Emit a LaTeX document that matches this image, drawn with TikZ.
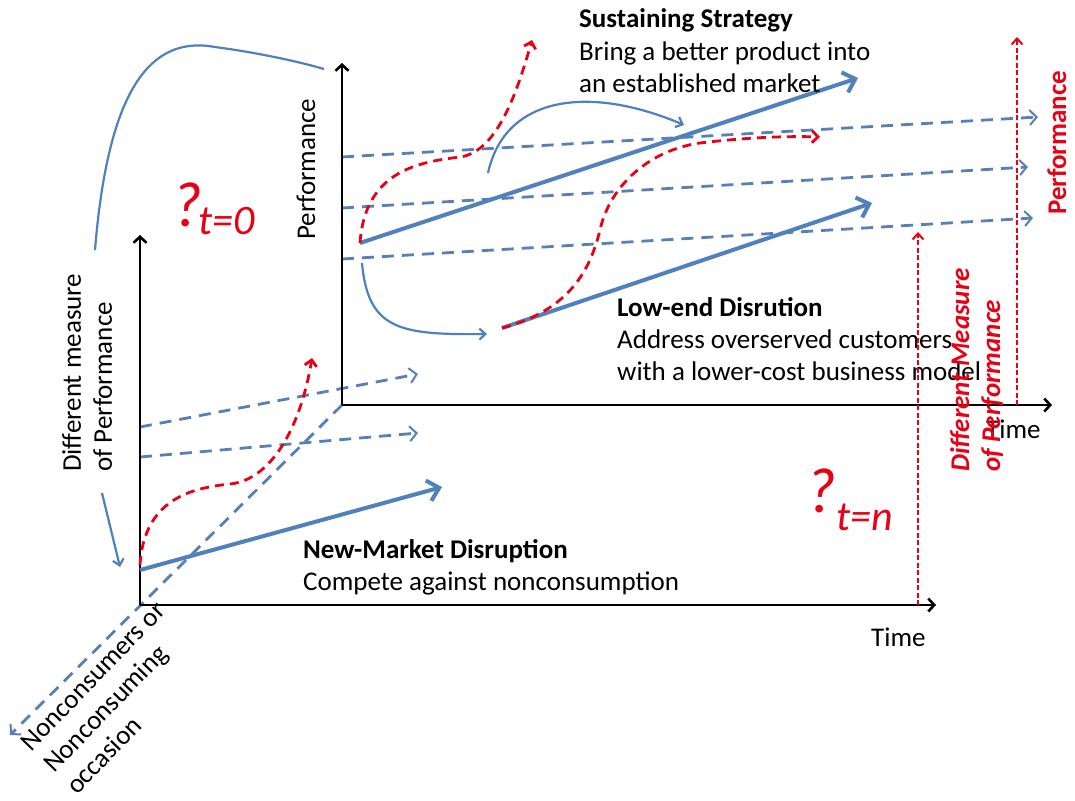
\documentclass[tikz,border=0pt]{standalone}
\usepackage{fontspec}
\setmainfont{Carlito}
\usetikzlibrary{arrows.meta}
\definecolor{ppblue}{RGB}{79,129,189}
\definecolor{dblue}{RGB}{88,128,182}
\definecolor{pred}{RGB}{232,0,20}
\tikzset{
  axisline/.style={line width=2.6pt, black, -{Straight Barb[length=6pt,width=13pt]}},
  thickarrow/.style={line width=4pt, ppblue, -{Straight Barb[length=11pt,width=21pt]}},
  thincurve/.style={line width=2.2pt, ppblue},
  thinarrow/.style={thincurve, -{Straight Barb[length=6pt,width=11pt]}},
  dasharrow/.style={line width=2.8pt, dblue, dash pattern=on 12pt off 8pt, -{Straight Barb[length=7pt,width=15pt,line width=2pt]}},
  reddash/.style={line width=2.8pt, pred, dash pattern=on 9pt off 6pt, -{Straight Barb[length=6pt,width=12pt]}},
  redvert/.style={line width=2pt, pred, dash pattern=on 5pt off 2.5pt, -{Straight Barb[length=6pt,width=11pt]}},
  txt/.style={inner sep=0pt, anchor=base west, font=\fontsize{27}{32}\selectfont},
  mtxt/.style={inner sep=0pt, anchor=north west, align=left, font=\fontsize{27}{31}\selectfont},
  bigq/.style={inner sep=0pt, anchor=base west, text=pred, font=\fontsize{64}{64}\selectfont\itshape},
  subq/.style={inner sep=0pt, anchor=base west, text=pred, font=\fontsize{42}{42}\selectfont\itshape},
}
\begin{document}
\begin{tikzpicture}[x=1pt,y=-1pt]
\fill[white] (0,0) rectangle (1075,800);
\useasboundingbox (0,0) rectangle (1075,800);

% key coordinates
\coordinate (UO) at (342,405);
\coordinate (UYT) at (342,63);
\coordinate (UXT) at (1052,405);
\coordinate (LO) at (140,605);
\coordinate (LYT) at (140,235);
\coordinate (LXT) at (936,605);

\coordinate (D1s) at (342,157); \coordinate (D1e) at (1038,117);
\coordinate (D2s) at (342,208); \coordinate (D2e) at (1028,167);
\coordinate (D3s) at (342,259); \coordinate (D3e) at (1033,218);
\coordinate (D4s) at (140,427); \coordinate (D4e) at (418,374);
\coordinate (D5s) at (140,457); \coordinate (D5e) at (418,433);
\coordinate (NC) at (10,735);

\coordinate (S1) at (360,243); \coordinate (S2) at (858,78);
\coordinate (L1) at (502,328); \coordinate (L2) at (872,203);
\coordinate (N1) at (140,570); \coordinate (N2) at (442,487);

\coordinate (C1s) at (488,173); \coordinate (C1e) at (684,125);
\coordinate (C2s) at (362,263); \coordinate (C2e) at (487,334);
\coordinate (B1) at (95,250); \coordinate (B2) at (215,47); \coordinate (B3) at (324,69);
\coordinate (A1) at (102,493); \coordinate (A2) at (120,567);

\coordinate (R1e) at (532,40);
\coordinate (R2e) at (820,137);
\coordinate (R3s) at (140,565); \coordinate (R3e) at (312,358);

\coordinate (V1s) at (918,605); \coordinate (V1e) at (918,232);
\coordinate (V2s) at (1017,405); \coordinate (V2e) at (1017,37);

% dashed blue arrows
\draw[dasharrow] (D1s) -- (D1e);
\draw[dasharrow] (D2s) -- (D2e);
\draw[dasharrow] (D3s) -- (D3e);
\draw[dasharrow] (D4s) -- (D4e);
\draw[dasharrow] (D5s) -- (D5e);
\draw[dasharrow] (UO) -- (NC);

% axes
\draw[axisline] (UO) -- (UYT);
\draw[axisline] (UO) -- (UXT);
\draw[axisline] (LO) -- (LYT);
\draw[axisline] (LO) -- (LXT);

% thick blue arrows
\draw[thickarrow] (S1) -- (S2);
\draw[thickarrow] (L1) -- (L2);
\draw[thickarrow] (N1) -- (N2);

% thin blue curves
\draw[thinarrow] (C1s) .. controls (505,95) and (590,85) .. (C1e);
\draw[thinarrow] (C2s) .. controls (368,330) and (400,335) .. (C2e);
\draw[thincurve] (B1) .. controls (108,90) and (150,35) .. (B2) .. controls (260,53) and (300,62) .. (B3);
\draw[thinarrow] (A1) -- (A2);

% red dashed curves
\draw[reddash] (S1) .. controls (365,170) and (420,162) .. (460,157) .. controls (495,152) and (515,100) .. (R1e);
\draw[reddash] (L1) .. controls (570,310) and (590,270) .. (600,230) .. controls (610,185) and (650,150) .. (700,143) .. controls (750,137) and (790,136) .. (R2e);
\draw[reddash] (R3s) .. controls (144,500) and (190,488) .. (230,484) .. controls (270,480) and (300,430) .. (R3e);

% black texts
\node[txt] (sst) at (579,28) {\bfseries Sustaining Strategy};
\node[txt] (ss1) at (579,60) {Bring a better product into};
\node[txt] (ss2) at (579,92) {an established market};
\node[txt] (let) at (617,316) {\bfseries Low-end Disrution};
\node[txt] (le1) at (617,348) {Address overserved customers};
\node[txt] (le2) at (617,380) {with a lower-cost business model};
\node[txt] (nmt) at (303,558) {\bfseries New-Market Disruption};
\node[txt] (nm1) at (303,590) {Compete against nonconsumption};
\node[txt] (tl) at (871,646) {Time};
\node[txt] (tu) at (986,438) {Time};
\node[txt, rotate=90] (perf) at (315,240) {Performance};
\node[mtxt, rotate=90] (dm) at (62,472) {Different measure\\of Performance};
\node[mtxt, rotate=46, font=\fontsize{27}{31.5}\selectfont] (nc) at (19,740) {Nonconsumers or\\Nonconsuming\\occasion};

% question marks
\node[bigq] (q0) at (172,226) {?};
\node[subq] (q0s) at (198,234) {t=0};
\node[bigq] (qn) at (806,512) {?};
\node[subq] (qns) at (836,530) {t=n};

% red vertical axes
\draw[redvert] (V1s) -- (V1e);
\draw[redvert] (V2s) -- (V2e);

% red texts
\node[mtxt, rotate=90, text=pred, font=\fontsize{27}{31}\selectfont\bfseries\itshape] (rdm) at (950,472) {Different Measure\\of Performance};
\node[txt, rotate=90, text=pred] (rperf) at (1066,215) {\bfseries Performance};
\end{tikzpicture}
\end{document}
